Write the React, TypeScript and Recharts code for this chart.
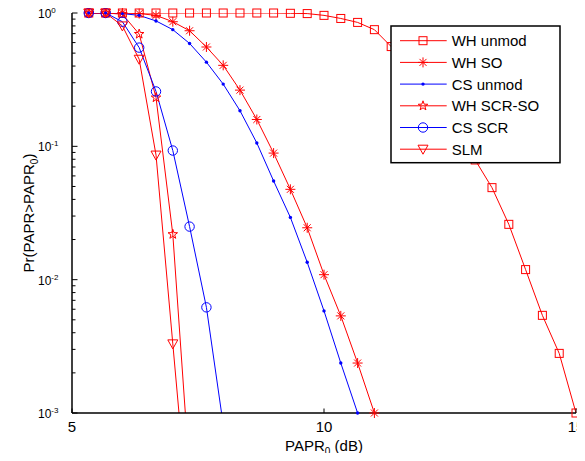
import React from 'react'
import { ComposedChart, Line, XAxis, YAxis, Legend } from 'recharts'

const FONT = '"Liberation Sans", Arial, Helvetica, sans-serif'
const RED = '#ff0000'
const BLUE = '#0000ff'

// PAPR0 grid (dB)
const PAPR0 = [
  5.333, 5.667, 6, 6.333, 6.667, 7, 7.333, 7.667, 8, 8.333, 8.667, 9, 9.333, 9.667, 10,
  10.333, 10.667, 11, 11.333, 11.667, 12, 12.333, 12.667, 13, 13.333, 13.667, 14, 14.333,
  14.667, 15
]

// CCDF curves, Pr(PAPR > PAPR0)
const WH_UNMOD = [
  1, 1, 1, 1, 1, 1, 1, 1, 1, 1, 1, 1, 0.995, 0.99, 0.96, 0.91, 0.85, 0.75, 0.56, 0.41, 0.29,
  0.195, 0.127, 0.079, 0.049, 0.026, 0.0119, 0.0054, 0.0028, 0.001
]
const WH_SO = [
  1, 1, 1, 0.99, 0.96, 0.86, 0.736, 0.556, 0.405, 0.264, 0.159, 0.089, 0.0476, 0.0245, 0.0109,
  0.00535, 0.00237, 0.001, null, null, null, null, null, null, null, null, null, null, null, null
]
const CS_UNMOD = [
  1, 1, 0.99, 0.96, 0.872, 0.75, 0.591, 0.428, 0.293, 0.185, 0.106, 0.055, 0.0293, 0.0135,
  0.00583, 0.00237, 0.001, null, null, null, null, null, null, null, null, null, null, null,
  null, null
]
const WH_SCR_SO = [
  1, 1, 0.98, 0.695, 0.232, 0.0219, 0.00035, null, null, null, null, null, null, null, null,
  null, null, null, null, null, null, null, null, null, null, null, null, null, null, null
]
const CS_SCR = [
  1, 1, 0.86, 0.55, 0.258, 0.093, 0.025, 0.0062, 0.00082, null, null, null, null, null, null,
  null, null, null, null, null, null, null, null, null, null, null, null, null, null, null
]
const SLM = [
  1, 1, 0.8, 0.45, 0.086, 0.0033, 0.00013, null, null, null, null, null, null, null, null,
  null, null, null, null, null, null, null, null, null, null, null, null, null, null, null
]

const X_TICKS = [5, 10, 15]
const Y_TICKS = [
  0.001, 0.002, 0.003, 0.004, 0.005, 0.006, 0.007, 0.008, 0.009,
  0.01, 0.02, 0.03, 0.04, 0.05, 0.06, 0.07, 0.08, 0.09,
  0.1, 0.2, 0.3, 0.4, 0.5, 0.6, 0.7, 0.8, 0.9, 1
]
const Y_MIN = 0.001
const Y_MAX = 1

const SERIES = [
  { key: 'whUnmod', name: 'WH unmod', color: RED, marker: 'square', values: WH_UNMOD },
  { key: 'whSo', name: 'WH SO', color: RED, marker: 'asterisk', values: WH_SO },
  { key: 'csUnmod', name: 'CS unmod', color: BLUE, marker: 'point', values: CS_UNMOD },
  { key: 'whScrSo', name: 'WH SCR-SO', color: RED, marker: 'pentagram', values: WH_SCR_SO },
  { key: 'csScr', name: 'CS SCR', color: BLUE, marker: 'circle', values: CS_SCR },
  { key: 'slm', name: 'SLM', color: RED, marker: 'triangle', values: SLM }
]

const data = PAPR0.map((x, i) => {
  const row: any = { x }
  SERIES.forEach(s => {
    row[s.key] = s.values[i]
  })
  return row
})

const pentagramPath = (cx: number, cy: number, ro: number, ri: number) => {
  let d = ''
  for (let k = 0; k < 10; k++) {
    const r = k % 2 === 0 ? ro : ri
    const a = -Math.PI / 2 + (k * Math.PI) / 5
    d += `${k === 0 ? 'M' : 'L'}${cx + r * Math.cos(a)},${cy + r * Math.sin(a)}`
  }
  return d + 'Z'
}

const Marker = ({ kind, cx, cy, color }) => {
  switch (kind) {
    case 'square':
      return <rect x={cx - 4} y={cy - 4} width={8} height={8} fill="none" stroke={color} />
    case 'asterisk':
      return (
        <path
          d={`M${cx - 5},${cy}H${cx + 5}M${cx},${cy - 5}V${cy + 5}M${cx - 3.5},${cy - 3.5}L${cx + 3.5},${cy + 3.5}M${cx - 3.5},${cy + 3.5}L${cx + 3.5},${cy - 3.5}`}
          fill="none"
          stroke={color}
        />
      )
    case 'point':
      return <circle cx={cx} cy={cy} r={1.7} fill={color} />
    case 'pentagram':
      return <path d={pentagramPath(cx, cy, 5, 2)} fill="none" stroke={color} />
    case 'circle':
      return <circle cx={cx} cy={cy} r={4.7} fill="none" stroke={color} />
    case 'triangle':
      return (
        <path
          d={`M${cx - 5},${cy - 4}L${cx + 5},${cy - 4}L${cx},${cy + 5}Z`}
          fill="none"
          stroke={color}
        />
      )
    default:
      return null
  }
}

const markerDot = (kind: string, color: string) => (props: any) => {
  const { cx, cy, index } = props
  if (cx == null || cy == null || isNaN(cy)) return <g key={index} />
  return <Marker key={index} kind={kind} cx={cx} cy={cy} color={color} />
}

const isDecade = (v: number) => Math.abs(Math.log10(v) - Math.round(Math.log10(v))) < 1e-9

const renderLeftTick = ({ x, y, payload }) => {
  const v = payload.value
  const major = isDecade(v)
  return (
    <g>
      <line x1={x} x2={x + (major ? 5.5 : 3.5)} y1={y} y2={y} stroke="#000" />
      {major && (
        <text x={x - 34} y={y + 5} fontSize={12} fontFamily={FONT} fill="#000">
          10
          <tspan dy={-5} fontSize={8}>
            {Math.round(Math.log10(v))}
          </tspan>
        </text>
      )}
    </g>
  )
}

const renderRightTick = ({ x, y, payload }) => {
  const major = isDecade(payload.value)
  return <line x1={x} x2={x - (major ? 5.5 : 3.5)} y1={y} y2={y} stroke="#000" />
}

const renderBottomTick = ({ x, y, payload }) => (
  <g>
    <line x1={x} x2={x} y1={y} y2={y - 4.5} stroke="#000" />
    <text x={x} y={y + 19} textAnchor="middle" fontSize={15} fontFamily={FONT} fill="#000">
      {payload.value}
    </text>
  </g>
)

const renderTopTick = ({ x, y }) => <line x1={x} x2={x} y1={y} y2={y + 4.5} stroke="#000" />

const renderXTitle = ({ viewBox }) => {
  const { x, y, width } = viewBox
  return (
    <text x={x + width / 2} y={y + 38} textAnchor="middle" fontSize={15} fontFamily={FONT} fill="#000">
      PAPR
      <tspan dy={4} fontSize={10}>0</tspan>
      <tspan dy={-4} fontSize={15}>{' (dB)'}</tspan>
    </text>
  )
}

const renderYTitle = ({ viewBox }) => {
  const { x, y, height } = viewBox
  const cx = x + 26
  const cy = y + height / 2
  return (
    <text
      x={cx}
      y={cy}
      transform={`rotate(-90 ${cx} ${cy})`}
      textAnchor="middle"
      fontSize={15}
      fontFamily={FONT}
      fill="#000"
    >
      {'Pr(PAPR>PAPR'}
      <tspan dy={4} fontSize={10}>0</tspan>
      <tspan dy={-4} fontSize={15}>)</tspan>
    </text>
  )
}

const renderLegend = () => (
  <svg width={172} height={140} style={{ display: 'block' }}>
    <rect x={1} y={1} width={169} height={136.7} fill="#fff" stroke="#000" strokeWidth={1.5} />
    {SERIES.map((s, i) => {
      const cy = 15.7 + i * 21.7
      return (
        <g key={s.key}>
          <line x1={10} x2={56.7} y1={cy} y2={cy} stroke={s.color} />
          <Marker kind={s.marker} cx={33} cy={cy} color={s.color} />
          <text x={61.7} y={cy + 5.5} fontSize={15} fontFamily={FONT} fill="#000">
            {s.name}
          </text>
        </g>
      )
    })}
  </svg>
)

const axisLine = { stroke: '#000', strokeWidth: 1.5 }

export default function App() {
  return (
    <>
      {/* let tick labels and edge markers spill past the svg box */}
      <style>{'.recharts-surface { overflow: visible; }'}</style>
      <ComposedChart
        width={569}
        height={445}
        data={data}
        margin={{ top: 5, right: 1, bottom: 0, left: 0 }}
      >
        <XAxis
          dataKey="x"
          type="number"
          domain={[5, 15]}
          ticks={X_TICKS}
          interval={0}
          height={40}
          tickSize={0}
          tickMargin={0}
          tickLine={false}
          axisLine={axisLine}
          tick={renderBottomTick}
          label={renderXTitle}
        />
        <XAxis
          xAxisId="top"
          orientation="top"
          dataKey="x"
          type="number"
          domain={[5, 15]}
          ticks={X_TICKS}
          interval={0}
          height={0}
          tickSize={0}
          tickMargin={0}
          tickLine={false}
          axisLine={axisLine}
          tick={renderTopTick}
        />
        <YAxis
          yAxisId="left"
          type="number"
          scale="log"
          domain={[Y_MIN, Y_MAX]}
          allowDataOverflow
          ticks={Y_TICKS}
          interval={0}
          width={64}
          tickSize={0}
          tickMargin={0}
          tickLine={false}
          axisLine={axisLine}
          tick={renderLeftTick}
          label={renderYTitle}
        />
        <YAxis
          yAxisId="right"
          orientation="right"
          type="number"
          scale="log"
          domain={[Y_MIN, Y_MAX]}
          allowDataOverflow
          ticks={Y_TICKS}
          interval={0}
          width={0}
          tickSize={0}
          tickMargin={0}
          tickLine={false}
          axisLine={axisLine}
          tick={renderRightTick}
        />
        <YAxis yAxisId="mk" hide type="number" scale="log" domain={[Y_MIN, Y_MAX]} />

        {/* curves, clipped to the plot box */}
        {SERIES.map(s => (
          <Line
            key={s.key}
            yAxisId="left"
            type="linear"
            dataKey={s.key}
            name={s.name}
            stroke={s.color}
            strokeWidth={1}
            dot={false}
            activeDot={false}
            isAnimationActive={false}
          />
        ))}

        {/* markers, left unclipped so the ones on the frame stay whole */}
        {SERIES.map(s => (
          <Line
            key={`${s.key}-mk`}
            yAxisId="mk"
            type="linear"
            dataKey={(row: any) => {
              const v = row[s.key]
              return v != null && v >= Y_MIN ? v : null
            }}
            stroke="none"
            dot={markerDot(s.marker, s.color)}
            activeDot={false}
            legendType="none"
            isAnimationActive={false}
          />
        ))}

        <Legend
          layout="horizontal"
          verticalAlign="middle"
          align="center"
          content={renderLegend}
          wrapperStyle={{ left: 382, top: 17, width: 172, height: 140 }}
        />
      </ComposedChart>
    </>
  )
}
